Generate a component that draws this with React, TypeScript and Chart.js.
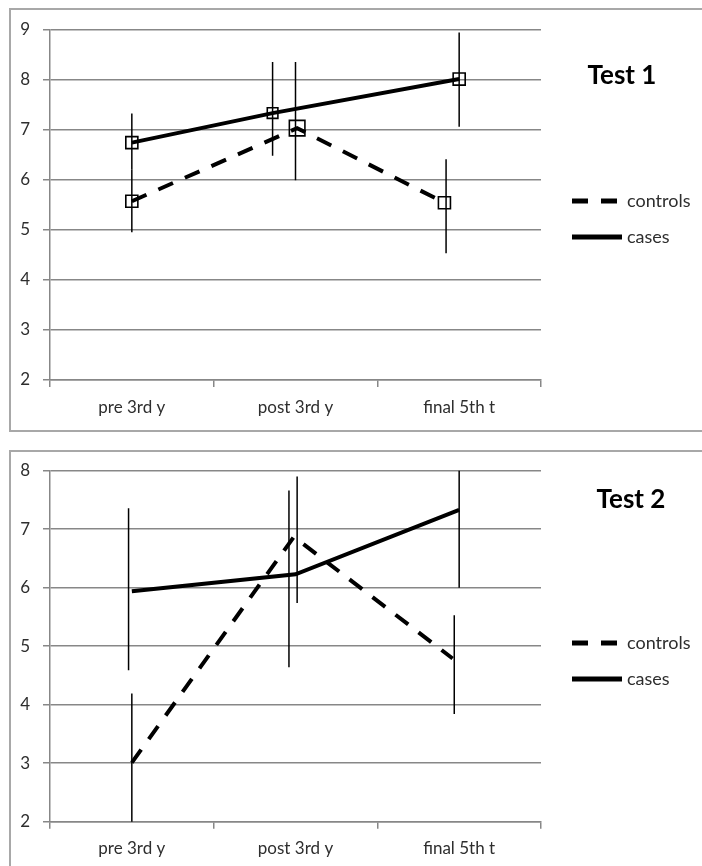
import React, { useEffect, useRef } from 'react';
import { Chart, registerables } from 'chart.js';

Chart.register(...registerables);

// ---- shared ----
const categories = ['pre 3rd y', 'post 3rd y', 'final 5th t'];
const seriesNames = ['controls', 'cases'];

// ---- Test 1 ----
const t1Title = 'Test 1';
const t1YMin = 2;
const t1YMax = 9;
const t1CasesX = [0, 0.86, 2];
const t1Cases = [6.74, 7.33, 8.01];
const t1ControlsX = [0, 1.01, 1.91];
const t1Controls = [5.57, 7.03, 5.54];
const t1CasesErrX = [0, 0.86, 2];
const t1CasesLow = [6.2, 6.48, 7.06];
const t1CasesHigh = [7.32, 8.35, 8.94];
const t1ControlsErrX = [0, 1.0, 1.92];
const t1ControlsLow = [4.95, 5.99, 4.53];
const t1ControlsHigh = [6.2, 8.35, 6.41];

// ---- Test 2 ----
const t2Title = 'Test 2';
const t2YMin = 2;
const t2YMax = 8;
const t2CasesX = [0, 1.0, 2.0];
const t2Cases = [5.94, 6.23, 7.33];
const t2ControlsX = [0, 0.99, 1.96];
const t2Controls = [3.01, 6.87, 4.79];
const t2CasesErrX = [-0.02, 0.96, 2.0];
const t2CasesLow = [4.59, 4.64, 6.0];
const t2CasesHigh = [7.36, 7.66, 8.66];
const t2ControlsErrX = [0, 1.01, 1.97];
const t2ControlsLow = [1.81, 5.74, 3.84];
const t2ControlsHigh = [4.19, 7.9, 5.53];

const FONT = "Lato, 'Open Sans', sans-serif";
const GRID = '#878787';
const TEXT = '#2e2e2e';
const DASH = [16, 13];

const pts = (xs: number[], ys: number[]) => xs.map((x, i) => ({ x, y: ys[i] }));
const errPts = (xs: number[], lo: number[], hi: number[]) => {
  const out: any[] = [];
  xs.forEach((x, i) => {
    out.push({ x, y: lo[i] }, { x, y: hi[i] }, { x, y: null });
  });
  return out;
};

const sidePlugin = {
  id: 'sideDeco',
  afterDraw(chart: any, _args: any, opts: any) {
    const ctx = chart.ctx;
    ctx.save();
    ctx.fillStyle = '#000';
    ctx.font = `bold 26px ${FONT}`;
    ctx.textAlign = 'center';
    ctx.textBaseline = 'middle';
    ctx.fillText(opts.title, opts.titleX, opts.titleY);
    opts.items.forEach((name: string, i: number) => {
      const ds = chart.data.datasets.find((d: any) => d.label === name);
      if (!ds) return;
      const y = opts.legendY + i * opts.legendGap;
      ctx.beginPath();
      ctx.setLineDash(ds.borderDash || []);
      ctx.lineWidth = ds.borderWidth + 1;
      ctx.strokeStyle = ds.borderColor;
      ctx.lineCap = 'butt';
      ctx.moveTo(opts.legendX, y);
      ctx.lineTo(opts.legendX + opts.lineLen, y);
      ctx.stroke();
      ctx.setLineDash([]);
      ctx.font = `18px ${FONT}`;
      ctx.textAlign = 'left';
      ctx.fillStyle = TEXT;
      ctx.fillText(name, opts.legendX + opts.lineLen + 5, y);
    });
    ctx.restore();
  },
};

type PanelProps = {
  width: number;
  height: number;
  title: string;
  yMin: number;
  yMax: number;
  casesX: number[];
  cases: number[];
  controlsX: number[];
  controls: number[];
  casesErrX: number[];
  casesLow: number[];
  casesHigh: number[];
  controlsErrX: number[];
  controlsLow: number[];
  controlsHigh: number[];
  markers: boolean;
  casesRadius: number[];
  controlsRadius: number[];
  padTop: number;
  xAxisHeight: number;
  titleX: number;
  titleY: number;
  legendY: number;
};

function Panel(p: PanelProps) {
  const ref = useRef<HTMLCanvasElement>(null);
  useEffect(() => {
    let chart: any = null;
    let cancelled = false;
    const make = () => {
      if (cancelled || !ref.current) return;
      const lineBase = {
        borderColor: '#000',
        borderWidth: 4,
        pointStyle: 'rect',
        pointBorderColor: '#000',
        pointBackgroundColor: 'rgba(0,0,0,0)',
        pointBorderWidth: 1.6,
        tension: 0,
        fill: false,
      };
      chart = new Chart(ref.current, {
        type: 'line',
        data: {
          datasets: [
            {
              label: 'cases-err',
              data: errPts(p.casesErrX, p.casesLow, p.casesHigh),
              borderColor: '#000',
              borderWidth: 1.5,
              pointRadius: 0,
              spanGaps: false,
              clip: 0,
            },
            {
              label: 'controls-err',
              data: errPts(p.controlsErrX, p.controlsLow, p.controlsHigh),
              borderColor: '#000',
              borderWidth: 1.5,
              pointRadius: 0,
              spanGaps: false,
              clip: 0,
            },
            {
              ...lineBase,
              label: seriesNames[0],
              data: pts(p.controlsX, p.controls),
              borderDash: DASH,
              pointRadius: p.markers ? p.controlsRadius : 0,
            },
            {
              ...lineBase,
              label: seriesNames[1],
              data: pts(p.casesX, p.cases),
              pointRadius: p.markers ? p.casesRadius : 0,
            },
          ],
        } as any,
        options: {
          animation: false,
          responsive: false,
          events: [],
          layout: { padding: { left: 0, right: 161, top: p.padTop, bottom: 0 } },
          plugins: {
            legend: { display: false },
            tooltip: { enabled: false },
            sideDeco: {
              title: p.title,
              titleX: p.titleX,
              titleY: p.titleY,
              items: seriesNames,
              legendX: 572,
              legendY: p.legendY,
              legendGap: 36,
              lineLen: 50,
            },
          } as any,
          scales: {
            x: {
              type: 'linear',
              min: -0.5,
              max: 2.5,
              afterFit: (s: any) => {
                s.height = p.xAxisHeight;
              },
              ticks: {
                stepSize: 0.5,
                autoSkip: false,
                maxRotation: 0,
                padding: 10,
                color: TEXT,
                font: { family: FONT, size: 17 },
                callback: (v: any) => {
                  const n = Number(v);
                  return Math.abs(n - Math.round(n)) < 1e-6 ? categories[Math.round(n)] : '';
                },
              },
              grid: {
                drawOnChartArea: false,
                drawTicks: true,
                tickLength: 7,
                lineWidth: 1.5,
                color: (c: any) => {
                  const v = c.tick ? c.tick.value : 0;
                  return Math.abs(v - Math.round(v)) < 1e-6 ? 'rgba(0,0,0,0)' : GRID;
                },
              },
              border: { display: true, color: GRID, width: 1.5 },
            },
            y: {
              type: 'linear',
              min: p.yMin,
              max: p.yMax,
              afterFit: (s: any) => {
                s.width = 50;
              },
              ticks: {
                stepSize: 1,
                padding: 13,
                color: TEXT,
                font: { family: FONT, size: 17 },
              },
              grid: {
                color: GRID,
                lineWidth: 1.5,
                tickLength: 7,
                drawTicks: true,
              },
              border: { display: true, color: GRID, width: 1.5 },
            },
          },
        } as any,
        plugins: [sidePlugin as any],
      });
    };
    const fonts: any = (document as any).fonts;
    if (fonts && fonts.load) {
      Promise.all([fonts.load(`17px Lato`), fonts.load(`bold 26px Lato`)])
        .catch(() => null)
        .then(make);
    } else {
      make();
    }
    return () => {
      cancelled = true;
      if (chart) chart.destroy();
    };
  }, []);
  return <canvas ref={ref} width={p.width} height={p.height} style={{ display: 'block' }} />;
}

export default function App() {
  const border = '2px solid #a8a8a8';
  return (
    <div
      style={{
        position: 'absolute',
        left: 0,
        top: 0,
        width: 702,
        height: 866,
        overflow: 'hidden',
        background: '#fff',
      }}
    >
      <div style={{ position: 'absolute', left: 9, top: 8, width: 800, height: 420, border }} />
      <div style={{ position: 'absolute', left: 9, top: 450, width: 800, height: 600, border }} />
      <div style={{ position: 'absolute', left: 0, top: 0 }}>
        <Panel
          width={702}
          height={430}
          title={t1Title}
          yMin={t1YMin}
          yMax={t1YMax}
          casesX={t1CasesX}
          cases={t1Cases}
          controlsX={t1ControlsX}
          controls={t1Controls}
          casesErrX={t1CasesErrX}
          casesLow={t1CasesLow}
          casesHigh={t1CasesHigh}
          controlsErrX={t1ControlsErrX}
          controlsLow={t1ControlsLow}
          controlsHigh={t1ControlsHigh}
          markers={true}
          casesRadius={[8.5, 7.5, 8.5]}
          controlsRadius={[8.5, 11, 8.5]}
          padTop={29.5}
          xAxisHeight={50}
          titleX={622}
          titleY={76}
          legendY={201}
        />
      </div>
      <div style={{ position: 'absolute', left: 0, top: 430 }}>
        <Panel
          width={702}
          height={436}
          title={t2Title}
          yMin={t2YMin}
          yMax={t2YMax}
          casesX={t2CasesX}
          cases={t2Cases}
          controlsX={t2ControlsX}
          controls={t2Controls}
          casesErrX={t2CasesErrX}
          casesLow={t2CasesLow}
          casesHigh={t2CasesHigh}
          controlsErrX={t2ControlsErrX}
          controlsLow={t2ControlsLow}
          controlsHigh={t2ControlsHigh}
          markers={false}
          casesRadius={[0, 0, 0]}
          controlsRadius={[0, 0, 0]}
          padTop={40.7}
          xAxisHeight={44.3}
          titleX={631}
          titleY={70}
          legendY={213}
        />
      </div>
    </div>
  );
}
